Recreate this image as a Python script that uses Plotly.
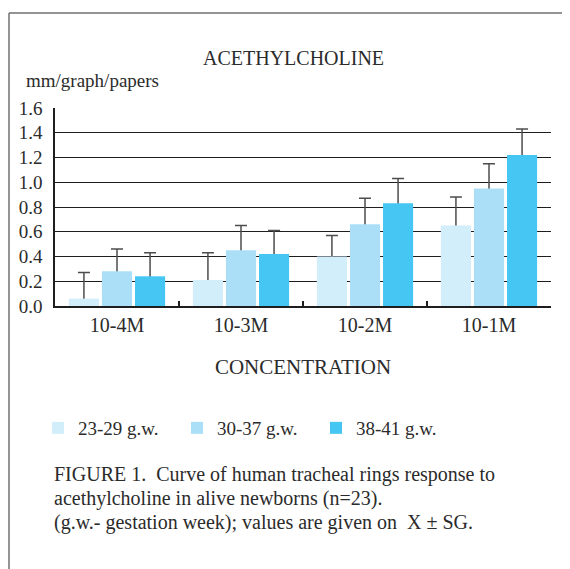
import plotly.graph_objects as go

categories = ["10-4M", "10-3M", "10-2M", "10-1M"]
series_names = ["23-29 g.w.", "30-37 g.w.", "38-41 g.w."]
vals_23_29 = [0.06, 0.21, 0.40, 0.65]
vals_30_37 = [0.28, 0.45, 0.66, 0.95]
vals_38_41 = [0.24, 0.42, 0.83, 1.22]
err_23_29 = [0.21, 0.22, 0.17, 0.23]
err_30_37 = [0.18, 0.20, 0.21, 0.20]
err_38_41 = [0.19, 0.19, 0.20, 0.21]
y_ticks = [0.0, 0.2, 0.4, 0.6, 0.8, 1.0, 1.2, 1.4, 1.6]

colors = ["#d2eefa", "#abdff8", "#46c6f3"]
values = [vals_23_29, vals_30_37, vals_38_41]
errors = [err_23_29, err_30_37, err_38_41]

FONT = "Liberation Serif"
TXT = "#2b2b2b"

# the page body adds an 8px offset; lay out in window pixels and compensate
OFF = 8
W, H = 570 - OFF, 569 - OFF
PLOT_L, PLOT_R, PLOT_T, PLOT_B = 55, 551, 108, 306  # window pixels
L = PLOT_L - OFF
R = W - (PLOT_R - OFF)
T = PLOT_T - OFF
B = H - (PLOT_B - OFF)
PW, PH = PLOT_R - PLOT_L, PLOT_B - PLOT_T


def xp(px):
    return (px - PLOT_L) / PW


def yp(py):
    return (PLOT_B - py) / PH


fig = go.Figure()

# error bars (drawn beneath the bars so the lower end hides inside the bar)
for i in range(3):
    fig.add_trace(go.Scatter(
        x=categories, y=values[i], mode="markers",
        marker=dict(color="rgba(0,0,0,0)", size=1),
        error_y=dict(type="data", symmetric=False, array=errors[i],
                     arrayminus=[0.02] * len(categories),
                     color="#4d4d4d", thickness=1.5, width=6),
        offsetgroup=str(i), showlegend=False, hoverinfo="skip",
        yaxis="y", xaxis="x",
    ))

for i in range(3):
    fig.add_trace(go.Bar(
        x=categories, y=values[i], name=series_names[i],
        marker=dict(color=colors[i], line=dict(width=0)),
        offsetgroup=str(i), yaxis="y2", xaxis="x",
    ))

fig.update_layout(
    width=W, height=H,
    margin=dict(l=L, r=R, t=T, b=B),
    paper_bgcolor="white", plot_bgcolor="white",
    font=dict(family=FONT, color=TXT, size=18),
    barmode="group", bargap=0.2, bargroupgap=0.09,
    scattermode="group", scattergap=0.2,
    xaxis=dict(
        type="category", showline=True, linecolor="#1e1e1e", linewidth=1.5,
        ticks="inside", ticklen=5, tickcolor="#1e1e1e", tickwidth=1.5,
        tickson="boundaries", showgrid=False,
        tickfont=dict(size=20, family=FONT, color=TXT),
        title=dict(text="CONCENTRATION", font=dict(size=21, family=FONT, color=TXT),
                   standoff=25),
    ),
    yaxis=dict(
        range=[0, 1.6], tickvals=y_ticks, tickformat=".1f",
        showgrid=True, gridcolor="#1e1e1e", gridwidth=1.3,
        showline=True, linecolor="#1e1e1e", linewidth=1.5,
        ticks="", ticklabelstandoff=7, zeroline=False,
        tickfont=dict(size=19, family=FONT, color=TXT),
    ),
    yaxis2=dict(
        range=[0, 1.6], overlaying="y", side="left", showgrid=False,
        showticklabels=False, showline=False, zeroline=False, ticks="",
    ),
    legend=dict(
        orientation="h", x=xp(38), y=yp(428), xanchor="left", yanchor="middle",
        font=dict(size=19, family=FONT, color=TXT),
        entrywidthmode="pixels", entrywidth=94, traceorder="normal",
    ),
    showlegend=True,
)

annotations = [
    dict(text="ACETHYLCHOLINE", x=xp(293.5), y=yp(58), font=dict(size=20),
         xanchor="center", yanchor="middle"),
    dict(text="mm/graph/papers", x=xp(24), y=yp(80), font=dict(size=19),
         xanchor="left", yanchor="middle"),
    dict(text="FIGURE 1.  Curve of human tracheal rings response to",
         x=xp(52), y=yp(475), font=dict(size=20), xanchor="left", yanchor="middle"),
    dict(text="acethylcholine in alive newborns (n=23).",
         x=xp(52), y=yp(498), font=dict(size=20), xanchor="left", yanchor="middle"),
    dict(text="(g.w.- gestation week); values are given on  X ± SG.",
         x=xp(52), y=yp(522), font=dict(size=20), xanchor="left", yanchor="middle"),
]
for a in annotations:
    a.update(xref="paper", yref="paper", showarrow=False)
fig.update_layout(annotations=annotations)

frame = dict(color="#707070", width=1.5)
fig.add_shape(type="line", xref="paper", yref="paper",
              x0=xp(9), x1=xp(9), y0=yp(13), y1=yp(620), line=frame)
fig.add_shape(type="line", xref="paper", yref="paper",
              x0=xp(9), x1=xp(620), y0=yp(13), y1=yp(13), line=frame)

fig.write_html("out.html")
